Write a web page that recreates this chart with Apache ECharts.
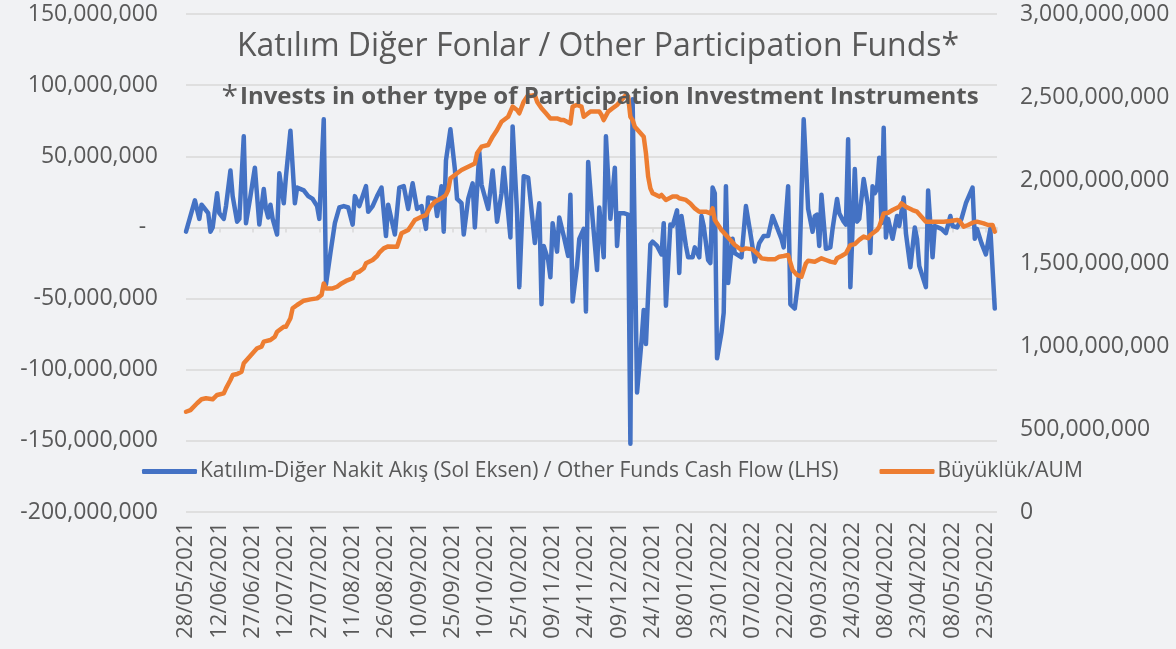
<!DOCTYPE html>
<html>
<head>
<meta charset="utf-8">
<script src="https://cdn.jsdelivr.net/npm/echarts@6/dist/echarts.min.js"></script>
<style>
  html, body { margin: 0; padding: 0; background: #f1f2f4; }
  #main { width: 1176px; height: 649px; }
</style>
</head>
<body>
<div id="main"></div>
<script>
// day offsets count from 28/05/2021
var startDate = new Date(2021, 4, 28);

// Katılım-Diğer nakit akış, millions TRY
var flowDays = [0, 4, 6, 7, 8, 10, 11, 12, 14, 15, 17, 18, 20, 21, 23, 24, 26, 27, 29, 31, 33, 35, 36, 37, 38, 39, 41, 42, 44, 45, 47, 49, 50, 53, 55, 57, 59, 60, 62, 63, 65, 67, 69, 71, 73, 75, 76, 78, 81, 82, 84, 86, 88, 90,
  91, 94, 96, 98, 100, 102, 104, 106, 108, 109, 112, 113, 115, 116, 117, 119, 121, 122, 124, 125, 127, 129, 130, 132, 133, 136, 138, 140, 142, 143, 145, 146, 147, 149, 150, 152, 154, 155, 157, 159, 160, 161, 163, 164, 165, 167, 168, 170, 172, 173, 174, 176, 177, 179, 180, 181, 183,
  185, 186, 188, 189, 191, 192, 193, 194, 195, 197, 199, 200, 201, 203, 205, 206, 207, 209, 210, 212, 214, 215, 216, 218, 219, 221, 222, 223, 225, 226, 228, 229, 231, 232, 233, 235, 236, 237, 238, 239, 241, 242, 243, 244, 246, 247, 250, 252, 254, 256, 258, 260, 262, 264, 265, 268, 269, 271, 272, 274,
  276, 278, 280, 282, 283, 284, 285, 286, 288, 290, 291, 293, 294, 296, 297, 298, 299, 301, 302, 303, 305, 307, 308, 309, 310, 311, 312, 313, 314, 315, 316, 318, 320, 321, 323, 324, 326, 328, 329, 330, 333, 334, 336, 337, 340, 342, 344, 345, 347, 349, 351, 354, 355, 356, 358, 360, 362, 364];
var flowValues = [-3, 19, 6, 16, 14, 10, -3, 0, 24, 10, 6, 15, 40, 22, 4, 6, 64, 3, 22, 42, 2, 27, 13, 7, 16, 6, -5, 38, 17, 36, 68, 17, 28, 26, 22, 20, 15, 6, 76, -40, -18, 3, 14, 15, 14, 2, 22, 15, 29, 11, 15, 22, 28, -6,
  16, -5, 28, 29, 13, 31, 13, 15, -1, 21, 20, 8, 29, -3, 47, 69, 41, 20, 17, -5, 20, 31, 0, 53, 30, 13, 40, 4, 24, 42, 10, -7, 71, 10, -42, 36, 35, 20, -11, 17, -54, -13, -23, -35, 3, -17, 7, -6, -20, 23, -52, -27, -8, -1, -59, 46, 6,
  -30, 14, -21, 64, 6, 24, 42, -13, 10, 10, 9, -152, 90, -116, -80, -58, -82, -12, -10, -13, -19, 3, -55, 2, 1, 12, -32, 8, -13, -21, -21, -14, -21, 8, 1, -23, -25, 28, 24, -92, -74, -60, 29, -39, -8, -18, -21, 15, -4, -24, -11, -6, -6, 8, 4, -8, -14, 29, -54, -57,
  -32, 76, 13, -3, 8, 9, -13, 23, -15, -14, -1, 20, 10, 4, 2, 62, -42, 41, 4, 6, 34, 15, -18, 29, 24, 27, 49, 3, 70, -7, 6, -8, 8, 1, 21, -4, -28, 0, -8, -27, -42, 26, -21, 1, -1, -4, 8, 1, 0, 6, 17, 28, -8, -1, -11, -19, -1, -57];

// Büyüklük / AUM, millions TRY
var aumDays = [0, 2, 5, 7, 9, 12, 14, 17, 18, 20, 21, 23, 25, 26, 28, 30, 32, 34, 35, 38, 40, 41, 44, 45, 47, 48, 50, 53, 56, 59, 61, 62, 63, 66, 68, 70, 72, 75, 76, 78, 80, 81, 84, 86, 87, 89,
  91, 95, 97, 100, 101, 103, 106, 108, 110, 112, 115, 117, 118, 119, 121, 124, 127, 130, 131, 133, 136, 138, 140, 142, 145, 147, 149, 150, 152, 154, 155, 157, 158, 160, 162, 164, 167, 169, 170, 173, 174, 176, 178, 179, 181, 182,
  186, 187, 188, 190, 192, 194, 196, 198, 199, 200, 201, 202, 204, 206, 207, 208, 209, 210, 213, 214, 216, 219, 221, 222, 225, 227, 229, 231, 234, 236, 237, 238, 241, 243, 245, 247, 250, 252, 255, 257, 259, 262, 265, 267, 269, 271, 273, 275,
  277, 279, 280, 283, 286, 288, 290, 292, 293, 295, 297, 299, 301, 303, 305, 307, 308, 311, 312, 314, 316, 318, 321, 322, 324, 327, 329, 331, 333, 335, 338, 341, 344, 347, 348, 350, 352, 354, 356, 359, 361, 363, 364];
var aumValues = [604, 614, 655, 679, 685, 679, 705, 715, 745, 795, 825, 831, 845, 896, 926, 956, 986, 996, 1026, 1036, 1056, 1086, 1116, 1116, 1167, 1227, 1247, 1273, 1281, 1287, 1307, 1377, 1347, 1347, 1357, 1377, 1392, 1408, 1438, 1448, 1468, 1498, 1518, 1542, 1562, 1588,
  1600, 1598, 1679, 1699, 1719, 1759, 1779, 1789, 1839, 1869, 1890, 1910, 1940, 2010, 2030, 2060, 2080, 2100, 2161, 2201, 2211, 2261, 2301, 2351, 2381, 2442, 2422, 2402, 2472, 2512, 2506, 2512, 2472, 2432, 2402, 2371, 2371, 2361, 2361, 2341, 2442, 2452, 2442, 2381, 2402, 2412,
  2412, 2392, 2361, 2412, 2432, 2452, 2482, 2512, 2502, 2381, 2361, 2321, 2291, 2261, 2161, 2020, 1950, 1920, 1900, 1910, 1880, 1900, 1900, 1890, 1880, 1859, 1829, 1809, 1809, 1799, 1829, 1759, 1699, 1669, 1639, 1608, 1578, 1588, 1582, 1558, 1528, 1522, 1522, 1538, 1542, 1548, 1458, 1428,
  1418, 1498, 1514, 1508, 1528, 1518, 1508, 1502, 1528, 1542, 1558, 1608, 1614, 1639, 1659, 1649, 1669, 1699, 1719, 1799, 1803, 1819, 1839, 1859, 1839, 1819, 1809, 1779, 1749, 1749, 1749, 1749, 1753, 1759, 1755, 1719, 1729, 1743, 1749, 1739, 1729, 1729, 1689];

var flowName = 'Katılım-Diğer Nakit Akış (Sol Eksen) / Other Funds Cash Flow (LHS)';
var aumName = 'Büyüklük/AUM';

function pad(n) { return n < 10 ? '0' + n : '' + n; }
function dayLabel(v) {
  var d = new Date(startDate.getFullYear(), startDate.getMonth(), startDate.getDate() + v);
  return pad(d.getDate()) + '/' + pad(d.getMonth() + 1) + '/' + d.getFullYear();
}

var chartDom = document.getElementById('main');
var myChart = echarts.init(chartDom);
var option;

var txt = '#595959';
var grid = '#d9d9d9';

option = {
  backgroundColor: '#f1f2f4',
  animation: false,
  textStyle: { fontFamily: 'Open Sans' },
  title: [
    {
      text: 'Katılım Diğer Fonlar / Other Participation Funds*',
      left: 593, top: 26, textAlign: 'center',
      textStyle: { color: txt, fontSize: 32, fontWeight: 'normal' }
    },
    {
      text: '{a|*}{b|Invests in other type of Participation Investment Instruments}',
      left: 595, top: 77, textAlign: 'center',
      textStyle: {
        rich: {
          a: { color: txt, fontSize: 30, fontWeight: 'normal', verticalAlign: 'top', padding: [0, 2, 0, 0] },
          b: { color: txt, fontSize: 24, fontWeight: 'bold' }
        }
      }
    }
  ],
  legend: {
    left: 137, top: 456,
    itemWidth: 55, itemHeight: 5, itemGap: 41,
    icon: 'roundRect',
    textStyle: { color: txt, fontSize: 21, padding: [0, 0, 0, -2] },
    data: [flowName, aumName]
  },
  grid: { left: 186, right: 179, top: 14, bottom: 137 },
  xAxis: [
    {
      type: 'value', min: 0, max: 365, interval: 15,
      axisLine: { show: false, onZero: false },
      axisTick: { show: false },
      splitLine: { show: false },
      axisLabel: {
        rotate: 90, margin: 10, color: txt, fontSize: 22,
        showMaxLabel: false,
        formatter: dayLabel
      }
    },
    {
      type: 'value', min: 0, max: 365, interval: 15, position: 'bottom',
      axisLine: { show: true, onZero: true, onZeroAxisIndex: 0, lineStyle: { color: grid, width: 1.5 } },
      axisTick: { show: true, length: 5, lineStyle: { color: grid, width: 1.5 } },
      splitLine: { show: false },
      axisLabel: { show: false }
    }
  ],
  yAxis: [
    {
      type: 'value', min: -200000000, max: 150000000, interval: 50000000,
      axisLine: { show: false }, axisTick: { show: false },
      splitLine: { lineStyle: { color: grid, width: 1.5 } },
      axisLabel: {
        color: txt, fontSize: 23, margin: 28,
        formatter: function (v) { return v === 0 ? '-  ' : v.toLocaleString('en-US'); }
      }
    },
    {
      type: 'value', min: 0, max: 3000000000, interval: 500000000,
      axisLine: { show: false }, axisTick: { show: false },
      splitLine: { show: false },
      axisLabel: {
        color: txt, fontSize: 23, margin: 23,
        formatter: function (v) { return v.toLocaleString('en-US'); }
      }
    }
  ],
  series: [
    {
      name: flowName, type: 'line', xAxisIndex: 0, yAxisIndex: 0,
      showSymbol: false, symbol: 'none',
      lineStyle: { color: '#4472c4', width: 4.5, join: 'round', cap: 'round' },
      itemStyle: { color: '#4472c4' },
      data: flowDays.map(function (d, i) { return [d, flowValues[i] * 1e6]; })
    },
    {
      name: aumName, type: 'line', xAxisIndex: 0, yAxisIndex: 1,
      showSymbol: false, symbol: 'none',
      lineStyle: { color: '#ed7d31', width: 4.5, join: 'round', cap: 'round' },
      itemStyle: { color: '#ed7d31' },
      data: aumDays.map(function (d, i) { return [d, aumValues[i] * 1e6]; })
    }
  ]
};

if (chartDom && myChart) {
  myChart.setOption(option);
} else {
  console.error('Failed to initialize the chart');
}
</script>
</body>
</html>
